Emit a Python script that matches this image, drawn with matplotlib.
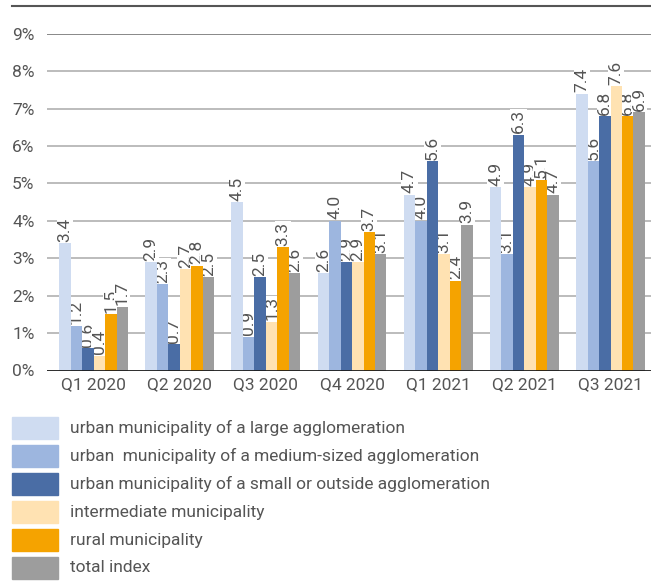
import matplotlib.pyplot as plt
import numpy as np
from matplotlib.patches import Rectangle
from matplotlib.lines import Line2D

plt.rcParams['font.family'] = ['Roboto', 'DejaVu Sans']

quarters = ['Q1 2020', 'Q2 2020', 'Q3 2020', 'Q4 2020', 'Q1 2021', 'Q2 2021', 'Q3 2021']
series = [
    'urban municipality of a large agglomeration',
    'urban  municipality of a medium-sized agglomeration',
    'urban municipality of a small or outside agglomeration',
    'intermediate municipality',
    'rural municipality',
    'total index',
]
large_agg = [3.4, 2.9, 4.5, 2.6, 4.7, 4.9, 7.4]
medium_agg = [1.2, 2.3, 0.9, 4.0, 4.0, 3.1, 5.6]
small_agg = [0.6, 0.7, 2.5, 2.9, 5.6, 6.3, 6.8]
intermediate = [0.4, 2.7, 1.3, 2.9, 3.1, 4.9, 7.6]
rural = [1.5, 2.8, 3.3, 3.7, 2.4, 5.1, 6.8]
total = [1.7, 2.5, 2.6, 3.1, 3.9, 4.7, 6.9]
values = [large_agg, medium_agg, small_agg, intermediate, rural, total]
colors = ['#CFDCF1', '#9DB6DF', '#4A6DA5', '#FFE2B2', '#F5A300', '#9D9D9D']

txt = '#555555'
fig = plt.figure(figsize=(6.51, 5.83), dpi=100)
ax = fig.add_axes([47 / 651, 1 - 370.5 / 583, 1 - 47 / 651, (370.5 - 33.7) / 583])

x = np.arange(len(quarters))
w = 0.8 / len(series)
for i, (vals, c) in enumerate(zip(values, colors)):
    pos = x - 0.4 + w * (i + 0.5)
    ax.bar(pos, vals, width=w, color=c, zorder=3)
    for p, v in zip(pos, vals):
        ax.annotate(f'{v:.1f}', (p, v), xytext=(0, 1), textcoords='offset points',
                    rotation=90, ha='center', va='bottom', fontsize=12.5, color=txt,
                    zorder=2.5, bbox=dict(facecolor='white', edgecolor='none', pad=0.5))

ax.set_xlim(-0.54, 6.47)
ax.set_ylim(0, 9)
ax.set_yticks(range(10))
ax.set_yticklabels([f'{t}%' for t in range(10)])
ax.set_xticks(x)
ax.set_xticklabels(quarters)
for t in range(1, 10):
    ax.axhline(t, color='#888888' if t == 9 else '#B0B0B0', lw=1.4 if t == 9 else 1.2, zorder=1)
ax.axhline(0, color='#1a1a1a', lw=2, zorder=4)
for s in ax.spines.values():
    s.set_visible(False)
ax.tick_params(length=0, labelsize=12.5, colors=txt, pad=5)
ax.tick_params(axis='y', pad=9)

# top rule
fig.add_artist(Line2D([12 / 651, 1], [1 - 6 / 583] * 2, color='#555555', lw=1.5))

# legend
for i, (name, c) in enumerate(zip(series, colors)):
    yc = 428 + 28 * i
    fig.add_artist(Rectangle((12 / 651, 1 - (yc + 11) / 583), 46 / 651, 22 / 583,
                             color=c, transform=fig.transFigure))
    fig.text(70 / 651, 1 - yc / 583, name, ha='left', va='center', fontsize=12.5, color=txt)

fig.savefig('out.png', dpi=100)
